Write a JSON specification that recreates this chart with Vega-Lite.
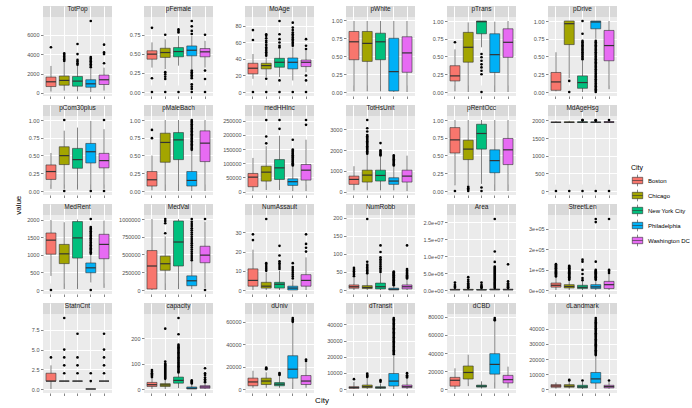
{
  "$schema": "https://vega.github.io/schema/vega-lite/v6.json",
  "padding": {"left": 14, "top": 5, "right": 0, "bottom": 2},
  "bounds": "flush",
  "title": {"text": "value", "orient": "left", "anchor": "middle", "fontSize": 8, "fontWeight": "normal", "color": "#000000", "offset": 4},
  "data": {"values": [
    {"v":"TotPop","c":"Boston","lo":150,"q1":660,"m":1150,"q3":1635,"hi":2780},
    {"v":"TotPop","c":"Chicago","lo":240,"q1":800,"m":1290,"q3":1740,"hi":3150},
    {"v":"TotPop","c":"New York City","lo":170,"q1":700,"m":1220,"q3":1700,"hi":2780},
    {"v":"TotPop","c":"Philadelphia","lo":100,"q1":590,"m":940,"q3":1360,"hi":2500},
    {"v":"TotPop","c":"Washington DC","lo":250,"q1":870,"m":1360,"q3":1840,"hi":2600},
    {"v":"pFemale","c":"Boston","lo":0.32,"q1":0.43,"m":0.496,"q3":0.54,"hi":0.65},
    {"v":"pFemale","c":"Chicago","lo":0.3,"q1":0.453,"m":0.517,"q3":0.573,"hi":0.69},
    {"v":"pFemale","c":"New York City","lo":0.345,"q1":0.461,"m":0.53,"q3":0.582,"hi":0.733},
    {"v":"pFemale","c":"Philadelphia","lo":0.3,"q1":0.474,"m":0.547,"q3":0.603,"hi":0.733},
    {"v":"pFemale","c":"Washington DC","lo":0.32,"q1":0.461,"m":0.526,"q3":0.569,"hi":0.67},
    {"v":"MoAge","c":"Boston","lo":16,"q1":22,"m":28.8,"q3":34.8,"hi":46},
    {"v":"MoAge","c":"Chicago","lo":18,"q1":28,"m":32,"q3":34.8,"hi":42},
    {"v":"MoAge","c":"New York City","lo":18,"q1":30,"m":36,"q3":40.8,"hi":52},
    {"v":"MoAge","c":"Philadelphia","lo":14,"q1":28,"m":36,"q3":41.2,"hi":54},
    {"v":"MoAge","c":"Washington DC","lo":24,"q1":30.8,"m":36,"q3":38.8,"hi":50},
    {"v":"pWhite","c":"Boston","lo":0.01,"q1":0.45,"m":0.7,"q3":0.844,"hi":0.99},
    {"v":"pWhite","c":"Chicago","lo":0.01,"q1":0.427,"m":0.678,"q3":0.844,"hi":0.99},
    {"v":"pWhite","c":"New York City","lo":0.01,"q1":0.45,"m":0.7,"q3":0.82,"hi":0.99},
    {"v":"pWhite","c":"Philadelphia","lo":0,"q1":0.014,"m":0.284,"q3":0.749,"hi":0.99},
    {"v":"pWhite","c":"Washington DC","lo":0,"q1":0.275,"m":0.545,"q3":0.77,"hi":0.99},
    {"v":"pTrans","c":"Boston","lo":0.01,"q1":0.156,"m":0.227,"q3":0.37,"hi":0.6},
    {"v":"pTrans","c":"Chicago","lo":0,"q1":0.42,"m":0.63,"q3":0.84,"hi":0.98},
    {"v":"pTrans","c":"New York City","lo":0.63,"q1":0.82,"m":0.99,"q3":1,"hi":1},
    {"v":"pTrans","c":"Philadelphia","lo":0,"q1":0.275,"m":0.526,"q3":0.82,"hi":0.99},
    {"v":"pTrans","c":"Washington DC","lo":0,"q1":0.488,"m":0.7,"q3":0.89,"hi":1},
    {"v":"pDrive","c":"Boston","lo":0.01,"q1":0.024,"m":0.142,"q3":0.275,"hi":0.56},
    {"v":"pDrive","c":"Chicago","lo":0.194,"q1":0.668,"m":0.962,"q3":1,"hi":1},
    {"v":"pDrive","c":"New York City","lo":0,"q1":0.052,"m":0.133,"q3":0.227,"hi":0.44},
    {"v":"pDrive","c":"Philadelphia","lo":0.75,"q1":0.89,"m":0.986,"q3":1,"hi":1},
    {"v":"pDrive","c":"Washington DC","lo":0.04,"q1":0.44,"m":0.654,"q3":0.867,"hi":1},
    {"v":"pCom30plus","c":"Boston","lo":0.03,"q1":0.163,"m":0.274,"q3":0.367,"hi":0.535},
    {"v":"pCom30plus","c":"Chicago","lo":0.03,"q1":0.372,"m":0.498,"q3":0.623,"hi":0.85},
    {"v":"pCom30plus","c":"New York City","lo":0.02,"q1":0.32,"m":0.442,"q3":0.6,"hi":0.893},
    {"v":"pCom30plus","c":"Philadelphia","lo":0.02,"q1":0.395,"m":0.553,"q3":0.67,"hi":0.986},
    {"v":"pCom30plus","c":"Washington DC","lo":0.03,"q1":0.326,"m":0.428,"q3":0.53,"hi":0.87},
    {"v":"pMaleBach","c":"Boston","lo":0.01,"q1":0.07,"m":0.158,"q3":0.274,"hi":0.5},
    {"v":"pMaleBach","c":"Chicago","lo":0,"q1":0.405,"m":0.684,"q3":0.814,"hi":1},
    {"v":"pMaleBach","c":"New York City","lo":0,"q1":0.442,"m":0.72,"q3":0.823,"hi":1},
    {"v":"pMaleBach","c":"Philadelphia","lo":0,"q1":0.07,"m":0.149,"q3":0.274,"hi":0.567},
    {"v":"pMaleBach","c":"Washington DC","lo":0,"q1":0.414,"m":0.674,"q3":0.847,"hi":1},
    {"v":"medHHInc","c":"Boston","lo":2300,"q1":17400,"m":51000,"q3":64000,"hi":118600},
    {"v":"medHHInc","c":"Chicago","lo":5800,"q1":37200,"m":68600,"q3":89500,"hi":160000},
    {"v":"medHHInc","c":"New York City","lo":5800,"q1":43000,"m":83700,"q3":112800,"hi":196500},
    {"v":"medHHInc","c":"Philadelphia","lo":2300,"q1":22000,"m":35000,"q3":45000,"hi":89500},
    {"v":"medHHInc","c":"Washington DC","lo":2300,"q1":40700,"m":75600,"q3":95400,"hi":182600},
    {"v":"TotHsUnit","c":"Boston","lo":63,"q1":350,"m":587,"q3":746,"hi":1222},
    {"v":"TotHsUnit","c":"Chicago","lo":63,"q1":460,"m":794,"q3":1032,"hi":1778},
    {"v":"TotHsUnit","c":"New York City","lo":63,"q1":508,"m":778,"q3":1032,"hi":1698},
    {"v":"TotHsUnit","c":"Philadelphia","lo":63,"q1":350,"m":508,"q3":667,"hi":1222},
    {"v":"TotHsUnit","c":"Washington DC","lo":30,"q1":460,"m":746,"q3":1032,"hi":1730},
    {"v":"pRentOcc","c":"Boston","lo":0.08,"q1":0.535,"m":0.72,"q3":0.893,"hi":1},
    {"v":"pRentOcc","c":"Chicago","lo":0.08,"q1":0.442,"m":0.59,"q3":0.716,"hi":1},
    {"v":"pRentOcc","c":"New York City","lo":0.1,"q1":0.59,"m":0.81,"q3":0.94,"hi":1},
    {"v":"pRentOcc","c":"Philadelphia","lo":0,"q1":0.256,"m":0.428,"q3":0.58,"hi":1},
    {"v":"pRentOcc","c":"Washington DC","lo":0,"q1":0.372,"m":0.58,"q3":0.74,"hi":1},
    {"v":"MdAgeHsg","c":"Boston","lo":1939,"q1":1939,"m":1942,"q3":1955,"hi":1978},
    {"v":"MdAgeHsg","c":"Chicago","lo":1939,"q1":1939,"m":1945,"q3":1958,"hi":1985},
    {"v":"MdAgeHsg","c":"New York City","lo":1939,"q1":1939,"m":1947,"q3":1960,"hi":1990},
    {"v":"MdAgeHsg","c":"Philadelphia","lo":1939,"q1":1939,"m":1945,"q3":1955,"hi":1980},
    {"v":"MdAgeHsg","c":"Washington DC","lo":1939,"q1":1939,"m":1950,"q3":1965,"hi":2005},
    {"v":"MedRent","c":"Boston","lo":400,"q1":1018,"m":1417,"q3":1620,"hi":1990},
    {"v":"MedRent","c":"Chicago","lo":30,"q1":750,"m":1028,"q3":1296,"hi":1926},
    {"v":"MedRent","c":"New York City","lo":30,"q1":907,"m":1481,"q3":1944,"hi":2000},
    {"v":"MedRent","c":"Philadelphia","lo":213,"q1":490,"m":630,"q3":768,"hi":1000},
    {"v":"MedRent","c":"Washington DC","lo":60,"q1":889,"m":1296,"q3":1583,"hi":1972},
    {"v":"MedVal","c":"Boston","lo":0,"q1":14000,"m":338000,"q3":555600,"hi":1000000},
    {"v":"MedVal","c":"Chicago","lo":0,"q1":278000,"m":370000,"q3":477000,"hi":755000},
    {"v":"MedVal","c":"New York City","lo":14000,"q1":338000,"m":676000,"q3":972000,"hi":1000000},
    {"v":"MedVal","c":"Philadelphia","lo":14000,"q1":60000,"m":130000,"q3":199000,"hi":407000},
    {"v":"MedVal","c":"Washington DC","lo":30000,"q1":384000,"m":491000,"q3":616000,"hi":960000},
    {"v":"NumAssault","c":"Boston","lo":0,"q1":2,"m":5,"q3":11,"hi":21},
    {"v":"NumAssault","c":"Chicago","lo":0,"q1":1,"m":2,"q3":4,"hi":9},
    {"v":"NumAssault","c":"New York City","lo":0,"q1":1,"m":3,"q3":4,"hi":10},
    {"v":"NumAssault","c":"Philadelphia","lo":0,"q1":0,"m":1,"q3":2,"hi":5},
    {"v":"NumAssault","c":"Washington DC","lo":0,"q1":2,"m":5,"q3":8,"hi":17},
    {"v":"NumRobb","c":"Boston","lo":0,"q1":5,"m":9,"q3":14,"hi":34},
    {"v":"NumRobb","c":"Chicago","lo":0,"q1":4,"m":7,"q3":12,"hi":43},
    {"v":"NumRobb","c":"New York City","lo":0,"q1":3,"m":9,"q3":19,"hi":46},
    {"v":"NumRobb","c":"Philadelphia","lo":0,"q1":0,"m":2,"q3":5,"hi":12},
    {"v":"NumRobb","c":"Washington DC","lo":0,"q1":3,"m":9,"q3":14,"hi":30},
    {"v":"Area","c":"Boston","lo":0,"q1":30000,"m":80000,"q3":200000,"hi":500000},
    {"v":"Area","c":"Chicago","lo":0,"q1":30000,"m":80000,"q3":200000,"hi":500000},
    {"v":"Area","c":"New York City","lo":0,"q1":20000,"m":50000,"q3":150000,"hi":450000},
    {"v":"Area","c":"Philadelphia","lo":0,"q1":50000,"m":120000,"q3":300000,"hi":550000},
    {"v":"Area","c":"Washington DC","lo":0,"q1":40000,"m":100000,"q3":250000,"hi":500000},
    {"v":"StreetLen","c":"Boston","lo":2000,"q1":16000,"m":25000,"q3":36000,"hi":65000},
    {"v":"StreetLen","c":"Chicago","lo":2000,"q1":12000,"m":19000,"q3":28000,"hi":50000},
    {"v":"StreetLen","c":"New York City","lo":2000,"q1":9000,"m":15000,"q3":25000,"hi":45000},
    {"v":"StreetLen","c":"Philadelphia","lo":2000,"q1":9000,"m":17000,"q3":28000,"hi":50000},
    {"v":"StreetLen","c":"Washington DC","lo":2000,"q1":9000,"m":28000,"q3":44000,"hi":80000},
    {"v":"StatnCnt","c":"Boston","lo":0,"q1":1,"m":1,"q3":2,"hi":3},
    {"v":"StatnCnt","c":"Chicago","lo":1,"q1":1,"m":1,"q3":1,"hi":1},
    {"v":"StatnCnt","c":"New York City","lo":1,"q1":1,"m":1,"q3":1,"hi":1},
    {"v":"StatnCnt","c":"Philadelphia","lo":0,"q1":0,"m":0,"q3":0,"hi":0},
    {"v":"StatnCnt","c":"Washington DC","lo":1,"q1":1,"m":1,"q3":1,"hi":1},
    {"v":"capacity","c":"Boston","lo":0,"q1":10,"m":17,"q3":26,"hi":43},
    {"v":"capacity","c":"Chicago","lo":0,"q1":10,"m":16,"q3":21,"hi":37},
    {"v":"capacity","c":"New York City","lo":4,"q1":23,"m":34,"q3":47,"hi":62},
    {"v":"capacity","c":"Philadelphia","lo":0,"q1":0,"m":3,"q3":8,"hi":19},
    {"v":"capacity","c":"Washington DC","lo":0,"q1":3,"m":8,"q3":13,"hi":23},
    {"v":"dUniv","c":"Boston","lo":1100,"q1":2900,"m":6300,"q3":9700,"hi":16300},
    {"v":"dUniv","c":"Chicago","lo":1100,"q1":4000,"m":7100,"q3":9700,"hi":14900},
    {"v":"dUniv","c":"New York City","lo":1100,"q1":2900,"m":4300,"q3":5700,"hi":11400},
    {"v":"dUniv","c":"Philadelphia","lo":0,"q1":9700,"m":17700,"q3":29700,"hi":59100},
    {"v":"dUniv","c":"Washington DC","lo":1100,"q1":4000,"m":7100,"q3":12000,"hi":23400},
    {"v":"dTransit","c":"Boston","lo":0,"q1":400,"m":900,"q3":1430,"hi":4490},
    {"v":"dTransit","c":"Chicago","lo":0,"q1":800,"m":1430,"q3":2450,"hi":6940},
    {"v":"dTransit","c":"New York City","lo":0,"q1":400,"m":900,"q3":1430,"hi":3470},
    {"v":"dTransit","c":"Philadelphia","lo":0,"q1":1840,"m":4900,"q3":9600,"hi":20800},
    {"v":"dTransit","c":"Washington DC","lo":0,"q1":820,"m":1430,"q3":2450,"hi":6500},
    {"v":"dCBD","c":"Boston","lo":400,"q1":3570,"m":10000,"q3":13200,"hi":23200},
    {"v":"dCBD","c":"Chicago","lo":3570,"q1":11400,"m":18600,"q3":25700,"hi":38200},
    {"v":"dCBD","c":"New York City","lo":1000,"q1":2500,"m":3570,"q3":4640,"hi":8900},
    {"v":"dCBD","c":"Philadelphia","lo":1000,"q1":16800,"m":27500,"q3":39300,"hi":75000},
    {"v":"dCBD","c":"Washington DC","lo":1700,"q1":7100,"m":10700,"q3":15400,"hi":25000},
    {"v":"dLandmark","c":"Boston","lo":600,"q1":1470,"m":2300,"q3":3160,"hi":4630},
    {"v":"dLandmark","c":"Chicago","lo":600,"q1":1470,"m":2100,"q3":3160,"hi":5260},
    {"v":"dLandmark","c":"New York City","lo":300,"q1":1050,"m":1680,"q3":2740,"hi":5000},
    {"v":"dLandmark","c":"Philadelphia","lo":300,"q1":4210,"m":6950,"q3":11160,"hi":22100},
    {"v":"dLandmark","c":"Washington DC","lo":400,"q1":1050,"m":1890,"q3":2740,"hi":5050},

    {"v":"TotPop","c":"Boston","o":4700},
    {"v":"TotPop","c":"Chicago","o":3300},{"v":"TotPop","c":"Chicago","o":3450},{"v":"TotPop","c":"Chicago","o":3600},{"v":"TotPop","c":"Chicago","o":3750},{"v":"TotPop","c":"Chicago","o":3900},{"v":"TotPop","c":"Chicago","o":4070},
    {"v":"TotPop","c":"New York City","o":2900},{"v":"TotPop","c":"New York City","o":3050},{"v":"TotPop","c":"New York City","o":3230},{"v":"TotPop","c":"New York City","o":3400},{"v":"TotPop","c":"New York City","o":4000},{"v":"TotPop","c":"New York City","o":5040},
    {"v":"TotPop","c":"Philadelphia","o":2650},{"v":"TotPop","c":"Philadelphia","o":2800},{"v":"TotPop","c":"Philadelphia","o":2950},{"v":"TotPop","c":"Philadelphia","o":3100},{"v":"TotPop","c":"Philadelphia","o":3250},{"v":"TotPop","c":"Philadelphia","o":3400},{"v":"TotPop","c":"Philadelphia","o":3550},{"v":"TotPop","c":"Philadelphia","o":3700},{"v":"TotPop","c":"Philadelphia","o":7400},
    {"v":"TotPop","c":"Washington DC","o":3060},{"v":"TotPop","c":"Washington DC","o":4000},{"v":"TotPop","c":"Washington DC","o":4170},{"v":"TotPop","c":"Washington DC","o":4970},

    {"v":"pFemale","c":"Boston","o":0.84},{"v":"pFemale","c":"Boston","o":0.18},{"v":"pFemale","c":"Boston","o":0},
    {"v":"pFemale","c":"Chicago","o":0.75},{"v":"pFemale","c":"Chicago","o":0.26},{"v":"pFemale","c":"Chicago","o":0.23},{"v":"pFemale","c":"Chicago","o":0.2},{"v":"pFemale","c":"Chicago","o":0.17},{"v":"pFemale","c":"Chicago","o":0},
    {"v":"pFemale","c":"New York City","o":0.78},{"v":"pFemale","c":"New York City","o":0.8},{"v":"pFemale","c":"New York City","o":0.82},{"v":"pFemale","c":"New York City","o":0},
    {"v":"pFemale","c":"Philadelphia","o":0.93},{"v":"pFemale","c":"Philadelphia","o":0.86},{"v":"pFemale","c":"Philadelphia","o":0.8},{"v":"pFemale","c":"Philadelphia","o":0.76},{"v":"pFemale","c":"Philadelphia","o":0.28},{"v":"pFemale","c":"Philadelphia","o":0.26},{"v":"pFemale","c":"Philadelphia","o":0.24},{"v":"pFemale","c":"Philadelphia","o":0.22},{"v":"pFemale","c":"Philadelphia","o":0.2},{"v":"pFemale","c":"Philadelphia","o":0.18},{"v":"pFemale","c":"Philadelphia","o":0.1},{"v":"pFemale","c":"Philadelphia","o":0.07},{"v":"pFemale","c":"Philadelphia","o":0.04},{"v":"pFemale","c":"Philadelphia","o":0},
    {"v":"pFemale","c":"Washington DC","o":0.75},{"v":"pFemale","c":"Washington DC","o":0.28},{"v":"pFemale","c":"Washington DC","o":0.17},{"v":"pFemale","c":"Washington DC","o":0},

    {"v":"MoAge","c":"Boston","o":75},{"v":"MoAge","c":"Boston","o":63},{"v":"MoAge","c":"Boston","o":0},
    {"v":"MoAge","c":"Chicago","o":44},{"v":"MoAge","c":"Chicago","o":46},{"v":"MoAge","c":"Chicago","o":48},{"v":"MoAge","c":"Chicago","o":50},{"v":"MoAge","c":"Chicago","o":52},{"v":"MoAge","c":"Chicago","o":54},{"v":"MoAge","c":"Chicago","o":57},{"v":"MoAge","c":"Chicago","o":60},{"v":"MoAge","c":"Chicago","o":62},{"v":"MoAge","c":"Chicago","o":65},{"v":"MoAge","c":"Chicago","o":68},{"v":"MoAge","c":"Chicago","o":70},{"v":"MoAge","c":"Chicago","o":16},{"v":"MoAge","c":"Chicago","o":0},
    {"v":"MoAge","c":"New York City","o":54},{"v":"MoAge","c":"New York City","o":56},{"v":"MoAge","c":"New York City","o":60},{"v":"MoAge","c":"New York City","o":64},{"v":"MoAge","c":"New York City","o":70},{"v":"MoAge","c":"New York City","o":86},{"v":"MoAge","c":"New York City","o":14},{"v":"MoAge","c":"New York City","o":0},
    {"v":"MoAge","c":"Philadelphia","o":56},{"v":"MoAge","c":"Philadelphia","o":58},{"v":"MoAge","c":"Philadelphia","o":60},{"v":"MoAge","c":"Philadelphia","o":62},{"v":"MoAge","c":"Philadelphia","o":64},{"v":"MoAge","c":"Philadelphia","o":66},{"v":"MoAge","c":"Philadelphia","o":68},{"v":"MoAge","c":"Philadelphia","o":70},{"v":"MoAge","c":"Philadelphia","o":72},{"v":"MoAge","c":"Philadelphia","o":75},{"v":"MoAge","c":"Philadelphia","o":78},{"v":"MoAge","c":"Philadelphia","o":84},{"v":"MoAge","c":"Philadelphia","o":0},
    {"v":"MoAge","c":"Washington DC","o":52},{"v":"MoAge","c":"Washington DC","o":56},{"v":"MoAge","c":"Washington DC","o":64},{"v":"MoAge","c":"Washington DC","o":20},{"v":"MoAge","c":"Washington DC","o":14},{"v":"MoAge","c":"Washington DC","o":0},

    {"v":"pTrans","c":"Boston","o":0.7},
    {"v":"pTrans","c":"New York City","o":0.535},{"v":"pTrans","c":"New York City","o":0.49},{"v":"pTrans","c":"New York City","o":0.44},{"v":"pTrans","c":"New York City","o":0.39},{"v":"pTrans","c":"New York City","o":0.346},{"v":"pTrans","c":"New York City","o":0.3},{"v":"pTrans","c":"New York City","o":0.25},{"v":"pTrans","c":"New York City","o":0},

    {"v":"pDrive","c":"Chicago","o":0.156},{"v":"pDrive","c":"Chicago","o":0},
    {"v":"pDrive","c":"New York City","o":0.46},{"v":"pDrive","c":"New York City","o":0.48},{"v":"pDrive","c":"New York City","o":0.5},{"v":"pDrive","c":"New York City","o":0.52},{"v":"pDrive","c":"New York City","o":0.54},{"v":"pDrive","c":"New York City","o":0.56},{"v":"pDrive","c":"New York City","o":0.58},{"v":"pDrive","c":"New York City","o":0.6},{"v":"pDrive","c":"New York City","o":0.62},{"v":"pDrive","c":"New York City","o":0.64},{"v":"pDrive","c":"New York City","o":0.66},{"v":"pDrive","c":"New York City","o":0.68},{"v":"pDrive","c":"New York City","o":0.7},{"v":"pDrive","c":"New York City","o":0.72},{"v":"pDrive","c":"New York City","o":0.82},{"v":"pDrive","c":"New York City","o":1},
    {"v":"pDrive","c":"Philadelphia","o":0},{"v":"pDrive","c":"Philadelphia","o":0.02},{"v":"pDrive","c":"Philadelphia","o":0.04},{"v":"pDrive","c":"Philadelphia","o":0.06},{"v":"pDrive","c":"Philadelphia","o":0.08},{"v":"pDrive","c":"Philadelphia","o":0.1},{"v":"pDrive","c":"Philadelphia","o":0.12},{"v":"pDrive","c":"Philadelphia","o":0.14},{"v":"pDrive","c":"Philadelphia","o":0.16},{"v":"pDrive","c":"Philadelphia","o":0.18},{"v":"pDrive","c":"Philadelphia","o":0.2},{"v":"pDrive","c":"Philadelphia","o":0.22},{"v":"pDrive","c":"Philadelphia","o":0.24},{"v":"pDrive","c":"Philadelphia","o":0.26},{"v":"pDrive","c":"Philadelphia","o":0.28},{"v":"pDrive","c":"Philadelphia","o":0.3},{"v":"pDrive","c":"Philadelphia","o":0.32},{"v":"pDrive","c":"Philadelphia","o":0.34},{"v":"pDrive","c":"Philadelphia","o":0.36},{"v":"pDrive","c":"Philadelphia","o":0.38},{"v":"pDrive","c":"Philadelphia","o":0.4},{"v":"pDrive","c":"Philadelphia","o":0.42},{"v":"pDrive","c":"Philadelphia","o":0.44},{"v":"pDrive","c":"Philadelphia","o":0.46},{"v":"pDrive","c":"Philadelphia","o":0.48},{"v":"pDrive","c":"Philadelphia","o":0.5},{"v":"pDrive","c":"Philadelphia","o":0.52},{"v":"pDrive","c":"Philadelphia","o":0.54},{"v":"pDrive","c":"Philadelphia","o":0.56},{"v":"pDrive","c":"Philadelphia","o":0.58},{"v":"pDrive","c":"Philadelphia","o":0.6},{"v":"pDrive","c":"Philadelphia","o":0.62},{"v":"pDrive","c":"Philadelphia","o":0.64},{"v":"pDrive","c":"Philadelphia","o":0.66},{"v":"pDrive","c":"Philadelphia","o":0.68},{"v":"pDrive","c":"Philadelphia","o":0.7},{"v":"pDrive","c":"Philadelphia","o":0.72},

    {"v":"pCom30plus","c":"Chicago","o":1},{"v":"pCom30plus","c":"Chicago","o":0},
    {"v":"pCom30plus","c":"Philadelphia","o":0},
    {"v":"pCom30plus","c":"Washington DC","o":1},{"v":"pCom30plus","c":"Washington DC","o":0},

    {"v":"pMaleBach","c":"Boston","o":0.744},{"v":"pMaleBach","c":"Boston","o":0.86},
    {"v":"pMaleBach","c":"Philadelphia","o":0.58},{"v":"pMaleBach","c":"Philadelphia","o":0.6},{"v":"pMaleBach","c":"Philadelphia","o":0.62},{"v":"pMaleBach","c":"Philadelphia","o":0.64},{"v":"pMaleBach","c":"Philadelphia","o":0.66},{"v":"pMaleBach","c":"Philadelphia","o":0.68},{"v":"pMaleBach","c":"Philadelphia","o":0.7},{"v":"pMaleBach","c":"Philadelphia","o":0.72},{"v":"pMaleBach","c":"Philadelphia","o":0.74},{"v":"pMaleBach","c":"Philadelphia","o":0.76},{"v":"pMaleBach","c":"Philadelphia","o":0.78},{"v":"pMaleBach","c":"Philadelphia","o":0.8},{"v":"pMaleBach","c":"Philadelphia","o":0.82},{"v":"pMaleBach","c":"Philadelphia","o":0.84},{"v":"pMaleBach","c":"Philadelphia","o":0.86},{"v":"pMaleBach","c":"Philadelphia","o":0.88},{"v":"pMaleBach","c":"Philadelphia","o":0.9},{"v":"pMaleBach","c":"Philadelphia","o":0.92},{"v":"pMaleBach","c":"Philadelphia","o":0.94},{"v":"pMaleBach","c":"Philadelphia","o":0.96},{"v":"pMaleBach","c":"Philadelphia","o":0.98},{"v":"pMaleBach","c":"Philadelphia","o":1},

    {"v":"medHHInc","c":"Chicago","o":170000},{"v":"medHHInc","c":"Chicago","o":194000},{"v":"medHHInc","c":"Chicago","o":252000},
    {"v":"medHHInc","c":"New York City","o":221000},{"v":"medHHInc","c":"New York City","o":252000},
    {"v":"medHHInc","c":"Philadelphia","o":92000},{"v":"medHHInc","c":"Philadelphia","o":96000},{"v":"medHHInc","c":"Philadelphia","o":100000},{"v":"medHHInc","c":"Philadelphia","o":104000},{"v":"medHHInc","c":"Philadelphia","o":108000},{"v":"medHHInc","c":"Philadelphia","o":112000},{"v":"medHHInc","c":"Philadelphia","o":116000},{"v":"medHHInc","c":"Philadelphia","o":120000},{"v":"medHHInc","c":"Philadelphia","o":124000},{"v":"medHHInc","c":"Philadelphia","o":128000},{"v":"medHHInc","c":"Philadelphia","o":132000},{"v":"medHHInc","c":"Philadelphia","o":136000},{"v":"medHHInc","c":"Philadelphia","o":140000},{"v":"medHHInc","c":"Philadelphia","o":144000},{"v":"medHHInc","c":"Philadelphia","o":148000},{"v":"medHHInc","c":"Philadelphia","o":182600},
    {"v":"medHHInc","c":"Washington DC","o":235000},{"v":"medHHInc","c":"Washington DC","o":252000},

    {"v":"TotHsUnit","c":"Chicago","o":1820},{"v":"TotHsUnit","c":"Chicago","o":1880},{"v":"TotHsUnit","c":"Chicago","o":1940},{"v":"TotHsUnit","c":"Chicago","o":2000},{"v":"TotHsUnit","c":"Chicago","o":2060},{"v":"TotHsUnit","c":"Chicago","o":2120},{"v":"TotHsUnit","c":"Chicago","o":2180},{"v":"TotHsUnit","c":"Chicago","o":2240},{"v":"TotHsUnit","c":"Chicago","o":2300},{"v":"TotHsUnit","c":"Chicago","o":2360},{"v":"TotHsUnit","c":"Chicago","o":2420},{"v":"TotHsUnit","c":"Chicago","o":2480},{"v":"TotHsUnit","c":"Chicago","o":2540},{"v":"TotHsUnit","c":"Chicago","o":2600},{"v":"TotHsUnit","c":"Chicago","o":2660},{"v":"TotHsUnit","c":"Chicago","o":2720},{"v":"TotHsUnit","c":"Chicago","o":2889},{"v":"TotHsUnit","c":"Chicago","o":3048},{"v":"TotHsUnit","c":"Chicago","o":3444},
    {"v":"TotHsUnit","c":"New York City","o":1740},{"v":"TotHsUnit","c":"New York City","o":1800},{"v":"TotHsUnit","c":"New York City","o":1860},{"v":"TotHsUnit","c":"New York City","o":1920},{"v":"TotHsUnit","c":"New York City","o":1980},{"v":"TotHsUnit","c":"New York City","o":2333},
    {"v":"TotHsUnit","c":"Philadelphia","o":1260},{"v":"TotHsUnit","c":"Philadelphia","o":1320},{"v":"TotHsUnit","c":"Philadelphia","o":1380},{"v":"TotHsUnit","c":"Philadelphia","o":1440},{"v":"TotHsUnit","c":"Philadelphia","o":1500},{"v":"TotHsUnit","c":"Philadelphia","o":1560},{"v":"TotHsUnit","c":"Philadelphia","o":1620},{"v":"TotHsUnit","c":"Philadelphia","o":1680},{"v":"TotHsUnit","c":"Philadelphia","o":1740},

    {"v":"pRentOcc","c":"Boston","o":0},
    {"v":"pRentOcc","c":"Chicago","o":0.06},{"v":"pRentOcc","c":"Chicago","o":0.04},{"v":"pRentOcc","c":"Chicago","o":0.02},{"v":"pRentOcc","c":"Chicago","o":0},
    {"v":"pRentOcc","c":"New York City","o":0.05},{"v":"pRentOcc","c":"New York City","o":0},

    {"v":"MdAgeHsg","c":"Boston","o":0},
    {"v":"MdAgeHsg","c":"Chicago","o":0},
    {"v":"MdAgeHsg","c":"New York City","o":2005},{"v":"MdAgeHsg","c":"New York City","o":2010},{"v":"MdAgeHsg","c":"New York City","o":0},
    {"v":"MdAgeHsg","c":"Philadelphia","o":1990},{"v":"MdAgeHsg","c":"Philadelphia","o":2000},{"v":"MdAgeHsg","c":"Philadelphia","o":2010},{"v":"MdAgeHsg","c":"Philadelphia","o":0},
    {"v":"MdAgeHsg","c":"Washington DC","o":2010},{"v":"MdAgeHsg","c":"Washington DC","o":0},

    {"v":"MedRent","c":"Boston","o":0},
    {"v":"MedRent","c":"Philadelphia","o":1030},{"v":"MedRent","c":"Philadelphia","o":1070},{"v":"MedRent","c":"Philadelphia","o":1110},{"v":"MedRent","c":"Philadelphia","o":1150},{"v":"MedRent","c":"Philadelphia","o":1190},{"v":"MedRent","c":"Philadelphia","o":1230},{"v":"MedRent","c":"Philadelphia","o":1270},{"v":"MedRent","c":"Philadelphia","o":1310},{"v":"MedRent","c":"Philadelphia","o":1350},{"v":"MedRent","c":"Philadelphia","o":1390},{"v":"MedRent","c":"Philadelphia","o":1430},{"v":"MedRent","c":"Philadelphia","o":1470},{"v":"MedRent","c":"Philadelphia","o":1510},{"v":"MedRent","c":"Philadelphia","o":1550},{"v":"MedRent","c":"Philadelphia","o":1590},{"v":"MedRent","c":"Philadelphia","o":1630},{"v":"MedRent","c":"Philadelphia","o":1670},{"v":"MedRent","c":"Philadelphia","o":1710},{"v":"MedRent","c":"Philadelphia","o":1750},{"v":"MedRent","c":"Philadelphia","o":1790},{"v":"MedRent","c":"Philadelphia","o":2018},{"v":"MedRent","c":"Philadelphia","o":0},

    {"v":"MedVal","c":"Chicago","o":800000},{"v":"MedVal","c":"Chicago","o":940000},{"v":"MedVal","c":"Chicago","o":972000},{"v":"MedVal","c":"Chicago","o":1000000},
    {"v":"MedVal","c":"Philadelphia","o":420000},{"v":"MedVal","c":"Philadelphia","o":450000},{"v":"MedVal","c":"Philadelphia","o":480000},{"v":"MedVal","c":"Philadelphia","o":510000},{"v":"MedVal","c":"Philadelphia","o":540000},{"v":"MedVal","c":"Philadelphia","o":570000},{"v":"MedVal","c":"Philadelphia","o":600000},{"v":"MedVal","c":"Philadelphia","o":630000},{"v":"MedVal","c":"Philadelphia","o":660000},{"v":"MedVal","c":"Philadelphia","o":690000},{"v":"MedVal","c":"Philadelphia","o":720000},{"v":"MedVal","c":"Philadelphia","o":750000},{"v":"MedVal","c":"Philadelphia","o":780000},{"v":"MedVal","c":"Philadelphia","o":810000},{"v":"MedVal","c":"Philadelphia","o":840000},{"v":"MedVal","c":"Philadelphia","o":870000},{"v":"MedVal","c":"Philadelphia","o":900000},{"v":"MedVal","c":"Philadelphia","o":930000},{"v":"MedVal","c":"Philadelphia","o":960000},{"v":"MedVal","c":"Philadelphia","o":1000000},
    {"v":"MedVal","c":"Washington DC","o":1000000},{"v":"MedVal","c":"Washington DC","o":0},

    {"v":"NumAssault","c":"Boston","o":26},{"v":"NumAssault","c":"Boston","o":29},
    {"v":"NumAssault","c":"Chicago","o":10},{"v":"NumAssault","c":"Chicago","o":11},{"v":"NumAssault","c":"Chicago","o":12},{"v":"NumAssault","c":"Chicago","o":13},{"v":"NumAssault","c":"Chicago","o":14},{"v":"NumAssault","c":"Chicago","o":37},
    {"v":"NumAssault","c":"New York City","o":11},{"v":"NumAssault","c":"New York City","o":12},{"v":"NumAssault","c":"New York City","o":13},{"v":"NumAssault","c":"New York City","o":14},{"v":"NumAssault","c":"New York City","o":15},{"v":"NumAssault","c":"New York City","o":18},{"v":"NumAssault","c":"New York City","o":23},
    {"v":"NumAssault","c":"Philadelphia","o":6},{"v":"NumAssault","c":"Philadelphia","o":7},{"v":"NumAssault","c":"Philadelphia","o":8},{"v":"NumAssault","c":"Philadelphia","o":9},{"v":"NumAssault","c":"Philadelphia","o":10},{"v":"NumAssault","c":"Philadelphia","o":11},{"v":"NumAssault","c":"Philadelphia","o":12},{"v":"NumAssault","c":"Philadelphia","o":14},
    {"v":"NumAssault","c":"Washington DC","o":20},{"v":"NumAssault","c":"Washington DC","o":22},{"v":"NumAssault","c":"Washington DC","o":24},{"v":"NumAssault","c":"Washington DC","o":29},

    {"v":"NumRobb","c":"Boston","o":38},{"v":"NumRobb","c":"Boston","o":42},{"v":"NumRobb","c":"Boston","o":47},{"v":"NumRobb","c":"Boston","o":52},{"v":"NumRobb","c":"Boston","o":56},{"v":"NumRobb","c":"Boston","o":61},
    {"v":"NumRobb","c":"Chicago","o":46},{"v":"NumRobb","c":"Chicago","o":50},{"v":"NumRobb","c":"Chicago","o":54},{"v":"NumRobb","c":"Chicago","o":58},{"v":"NumRobb","c":"Chicago","o":62},{"v":"NumRobb","c":"Chicago","o":66},{"v":"NumRobb","c":"Chicago","o":70},{"v":"NumRobb","c":"Chicago","o":78},{"v":"NumRobb","c":"Chicago","o":196},
    {"v":"NumRobb","c":"New York City","o":50},{"v":"NumRobb","c":"New York City","o":55},{"v":"NumRobb","c":"New York City","o":60},{"v":"NumRobb","c":"New York City","o":65},{"v":"NumRobb","c":"New York City","o":70},{"v":"NumRobb","c":"New York City","o":75},{"v":"NumRobb","c":"New York City","o":80},{"v":"NumRobb","c":"New York City","o":85},{"v":"NumRobb","c":"New York City","o":90},{"v":"NumRobb","c":"New York City","o":105},{"v":"NumRobb","c":"New York City","o":123},
    {"v":"NumRobb","c":"Philadelphia","o":13},{"v":"NumRobb","c":"Philadelphia","o":15},{"v":"NumRobb","c":"Philadelphia","o":17},{"v":"NumRobb","c":"Philadelphia","o":19},{"v":"NumRobb","c":"Philadelphia","o":21},{"v":"NumRobb","c":"Philadelphia","o":23},{"v":"NumRobb","c":"Philadelphia","o":25},{"v":"NumRobb","c":"Philadelphia","o":27},{"v":"NumRobb","c":"Philadelphia","o":29},{"v":"NumRobb","c":"Philadelphia","o":31},{"v":"NumRobb","c":"Philadelphia","o":33},{"v":"NumRobb","c":"Philadelphia","o":35},{"v":"NumRobb","c":"Philadelphia","o":37},{"v":"NumRobb","c":"Philadelphia","o":39},{"v":"NumRobb","c":"Philadelphia","o":41},{"v":"NumRobb","c":"Philadelphia","o":43},{"v":"NumRobb","c":"Philadelphia","o":45},{"v":"NumRobb","c":"Philadelphia","o":47},{"v":"NumRobb","c":"Philadelphia","o":49},{"v":"NumRobb","c":"Philadelphia","o":51},
    {"v":"NumRobb","c":"Washington DC","o":32},{"v":"NumRobb","c":"Washington DC","o":35},{"v":"NumRobb","c":"Washington DC","o":38},{"v":"NumRobb","c":"Washington DC","o":41},{"v":"NumRobb","c":"Washington DC","o":44},{"v":"NumRobb","c":"Washington DC","o":47},{"v":"NumRobb","c":"Washington DC","o":50},{"v":"NumRobb","c":"Washington DC","o":54},{"v":"NumRobb","c":"Washington DC","o":58},{"v":"NumRobb","c":"Washington DC","o":123},

    {"v":"Area","c":"Boston","o":700000},{"v":"Area","c":"Boston","o":1000000},{"v":"Area","c":"Boston","o":1500000},{"v":"Area","c":"Boston","o":2200000},
    {"v":"Area","c":"Chicago","o":600000},{"v":"Area","c":"Chicago","o":800000},{"v":"Area","c":"Chicago","o":1000000},{"v":"Area","c":"Chicago","o":1300000},{"v":"Area","c":"Chicago","o":1600000},{"v":"Area","c":"Chicago","o":2000000},{"v":"Area","c":"Chicago","o":2500000},{"v":"Area","c":"Chicago","o":3000000},{"v":"Area","c":"Chicago","o":3800000},
    {"v":"Area","c":"New York City","o":600000},{"v":"Area","c":"New York City","o":800000},{"v":"Area","c":"New York City","o":1100000},{"v":"Area","c":"New York City","o":1500000},{"v":"Area","c":"New York City","o":2200000},
    {"v":"Area","c":"Philadelphia","o":600000},{"v":"Area","c":"Philadelphia","o":900000},{"v":"Area","c":"Philadelphia","o":1200000},{"v":"Area","c":"Philadelphia","o":1500000},{"v":"Area","c":"Philadelphia","o":1800000},{"v":"Area","c":"Philadelphia","o":2100000},{"v":"Area","c":"Philadelphia","o":2400000},{"v":"Area","c":"Philadelphia","o":2700000},{"v":"Area","c":"Philadelphia","o":3000000},{"v":"Area","c":"Philadelphia","o":3300000},{"v":"Area","c":"Philadelphia","o":3600000},{"v":"Area","c":"Philadelphia","o":3900000},{"v":"Area","c":"Philadelphia","o":4200000},{"v":"Area","c":"Philadelphia","o":4500000},{"v":"Area","c":"Philadelphia","o":4800000},{"v":"Area","c":"Philadelphia","o":5100000},{"v":"Area","c":"Philadelphia","o":5400000},{"v":"Area","c":"Philadelphia","o":5700000},{"v":"Area","c":"Philadelphia","o":6000000},{"v":"Area","c":"Philadelphia","o":6300000},{"v":"Area","c":"Philadelphia","o":6600000},{"v":"Area","c":"Philadelphia","o":6900000},{"v":"Area","c":"Philadelphia","o":8300000},{"v":"Area","c":"Philadelphia","o":11400000},{"v":"Area","c":"Philadelphia","o":21000000},
    {"v":"Area","c":"Washington DC","o":600000},{"v":"Area","c":"Washington DC","o":800000},{"v":"Area","c":"Washington DC","o":1000000},{"v":"Area","c":"Washington DC","o":1300000},{"v":"Area","c":"Washington DC","o":1600000},{"v":"Area","c":"Washington DC","o":2000000},{"v":"Area","c":"Washington DC","o":2600000},{"v":"Area","c":"Washington DC","o":7600000},

    {"v":"StreetLen","c":"Boston","o":68000},{"v":"StreetLen","c":"Boston","o":72000},{"v":"StreetLen","c":"Boston","o":76000},{"v":"StreetLen","c":"Boston","o":80000},{"v":"StreetLen","c":"Boston","o":84000},{"v":"StreetLen","c":"Boston","o":88000},{"v":"StreetLen","c":"Boston","o":92000},{"v":"StreetLen","c":"Boston","o":96000},{"v":"StreetLen","c":"Boston","o":100000},{"v":"StreetLen","c":"Boston","o":104000},{"v":"StreetLen","c":"Boston","o":108000},{"v":"StreetLen","c":"Boston","o":112000},{"v":"StreetLen","c":"Boston","o":116000},{"v":"StreetLen","c":"Boston","o":120000},{"v":"StreetLen","c":"Boston","o":124000},{"v":"StreetLen","c":"Boston","o":128000},
    {"v":"StreetLen","c":"Chicago","o":52000},{"v":"StreetLen","c":"Chicago","o":56000},{"v":"StreetLen","c":"Chicago","o":60000},{"v":"StreetLen","c":"Chicago","o":64000},{"v":"StreetLen","c":"Chicago","o":68000},{"v":"StreetLen","c":"Chicago","o":72000},{"v":"StreetLen","c":"Chicago","o":76000},{"v":"StreetLen","c":"Chicago","o":80000},{"v":"StreetLen","c":"Chicago","o":84000},{"v":"StreetLen","c":"Chicago","o":88000},{"v":"StreetLen","c":"Chicago","o":92000},{"v":"StreetLen","c":"Chicago","o":96000},{"v":"StreetLen","c":"Chicago","o":100000},{"v":"StreetLen","c":"Chicago","o":104000},{"v":"StreetLen","c":"Chicago","o":108000},{"v":"StreetLen","c":"Chicago","o":112000},{"v":"StreetLen","c":"Chicago","o":116000},{"v":"StreetLen","c":"Chicago","o":120000},
    {"v":"StreetLen","c":"New York City","o":50000},{"v":"StreetLen","c":"New York City","o":60000},{"v":"StreetLen","c":"New York City","o":80000},{"v":"StreetLen","c":"New York City","o":100000},{"v":"StreetLen","c":"New York City","o":140000},{"v":"StreetLen","c":"New York City","o":150000},
    {"v":"StreetLen","c":"Philadelphia","o":52000},{"v":"StreetLen","c":"Philadelphia","o":56000},{"v":"StreetLen","c":"Philadelphia","o":60000},{"v":"StreetLen","c":"Philadelphia","o":64000},{"v":"StreetLen","c":"Philadelphia","o":68000},{"v":"StreetLen","c":"Philadelphia","o":72000},{"v":"StreetLen","c":"Philadelphia","o":76000},{"v":"StreetLen","c":"Philadelphia","o":80000},{"v":"StreetLen","c":"Philadelphia","o":84000},{"v":"StreetLen","c":"Philadelphia","o":88000},{"v":"StreetLen","c":"Philadelphia","o":92000},{"v":"StreetLen","c":"Philadelphia","o":96000},{"v":"StreetLen","c":"Philadelphia","o":100000},{"v":"StreetLen","c":"Philadelphia","o":140000},{"v":"StreetLen","c":"Philadelphia","o":333000},{"v":"StreetLen","c":"Philadelphia","o":348000},
    {"v":"StreetLen","c":"Washington DC","o":85000},{"v":"StreetLen","c":"Washington DC","o":95000},{"v":"StreetLen","c":"Washington DC","o":100000},{"v":"StreetLen","c":"Washington DC","o":348000},

    {"v":"StatnCnt","c":"Boston","o":4},
    {"v":"StatnCnt","c":"Chicago","o":2},{"v":"StatnCnt","c":"Chicago","o":3},{"v":"StatnCnt","c":"Chicago","o":4},{"v":"StatnCnt","c":"Chicago","o":5},{"v":"StatnCnt","c":"Chicago","o":9},
    {"v":"StatnCnt","c":"New York City","o":2},{"v":"StatnCnt","c":"New York City","o":3},{"v":"StatnCnt","c":"New York City","o":4},{"v":"StatnCnt","c":"New York City","o":7},
    {"v":"StatnCnt","c":"Philadelphia","o":1},{"v":"StatnCnt","c":"Philadelphia","o":2},
    {"v":"StatnCnt","c":"Washington DC","o":2},{"v":"StatnCnt","c":"Washington DC","o":3},{"v":"StatnCnt","c":"Washington DC","o":4},{"v":"StatnCnt","c":"Washington DC","o":5},{"v":"StatnCnt","c":"Washington DC","o":7},

    {"v":"capacity","c":"Boston","o":47},{"v":"capacity","c":"Boston","o":52},{"v":"capacity","c":"Boston","o":57},{"v":"capacity","c":"Boston","o":62},{"v":"capacity","c":"Boston","o":68},{"v":"capacity","c":"Boston","o":75},
    {"v":"capacity","c":"Chicago","o":40},{"v":"capacity","c":"Chicago","o":44},{"v":"capacity","c":"Chicago","o":48},{"v":"capacity","c":"Chicago","o":52},{"v":"capacity","c":"Chicago","o":56},{"v":"capacity","c":"Chicago","o":60},{"v":"capacity","c":"Chicago","o":64},{"v":"capacity","c":"Chicago","o":68},{"v":"capacity","c":"Chicago","o":72},{"v":"capacity","c":"Chicago","o":76},{"v":"capacity","c":"Chicago","o":80},{"v":"capacity","c":"Chicago","o":84},{"v":"capacity","c":"Chicago","o":88},{"v":"capacity","c":"Chicago","o":92},{"v":"capacity","c":"Chicago","o":96},{"v":"capacity","c":"Chicago","o":100},{"v":"capacity","c":"Chicago","o":108},{"v":"capacity","c":"Chicago","o":238},
    {"v":"capacity","c":"New York City","o":65},{"v":"capacity","c":"New York City","o":70},{"v":"capacity","c":"New York City","o":75},{"v":"capacity","c":"New York City","o":80},{"v":"capacity","c":"New York City","o":85},{"v":"capacity","c":"New York City","o":90},{"v":"capacity","c":"New York City","o":95},{"v":"capacity","c":"New York City","o":100},{"v":"capacity","c":"New York City","o":105},{"v":"capacity","c":"New York City","o":110},{"v":"capacity","c":"New York City","o":115},{"v":"capacity","c":"New York City","o":120},{"v":"capacity","c":"New York City","o":125},{"v":"capacity","c":"New York City","o":130},{"v":"capacity","c":"New York City","o":135},{"v":"capacity","c":"New York City","o":140},{"v":"capacity","c":"New York City","o":145},{"v":"capacity","c":"New York City","o":150},{"v":"capacity","c":"New York City","o":155},{"v":"capacity","c":"New York City","o":160},{"v":"capacity","c":"New York City","o":165},{"v":"capacity","c":"New York City","o":170},{"v":"capacity","c":"New York City","o":175},{"v":"capacity","c":"New York City","o":216},{"v":"capacity","c":"New York City","o":280},
    {"v":"capacity","c":"Philadelphia","o":22},{"v":"capacity","c":"Philadelphia","o":26},{"v":"capacity","c":"Philadelphia","o":30},{"v":"capacity","c":"Philadelphia","o":34},
    {"v":"capacity","c":"Washington DC","o":27},{"v":"capacity","c":"Washington DC","o":32},{"v":"capacity","c":"Washington DC","o":38},{"v":"capacity","c":"Washington DC","o":45},{"v":"capacity","c":"Washington DC","o":55},{"v":"capacity","c":"Washington DC","o":62},{"v":"capacity","c":"Washington DC","o":82},

    {"v":"dUniv","c":"Chicago","o":17700},{"v":"dUniv","c":"Chicago","o":18500},{"v":"dUniv","c":"Chicago","o":19100},
    {"v":"dUniv","c":"New York City","o":12500},{"v":"dUniv","c":"New York City","o":13500},{"v":"dUniv","c":"New York City","o":14300},
    {"v":"dUniv","c":"Philadelphia","o":60000},{"v":"dUniv","c":"Philadelphia","o":61000},{"v":"dUniv","c":"Philadelphia","o":62000},{"v":"dUniv","c":"Philadelphia","o":63400},
    {"v":"dUniv","c":"Washington DC","o":24900},{"v":"dUniv","c":"Washington DC","o":26300},

    {"v":"dTransit","c":"Boston","o":6100},
    {"v":"dTransit","c":"Chicago","o":7500},{"v":"dTransit","c":"Chicago","o":8100},{"v":"dTransit","c":"Chicago","o":8700},{"v":"dTransit","c":"Chicago","o":9600},
    {"v":"dTransit","c":"New York City","o":4500},{"v":"dTransit","c":"New York City","o":5500},
    {"v":"dTransit","c":"Philadelphia","o":21600},{"v":"dTransit","c":"Philadelphia","o":22400},{"v":"dTransit","c":"Philadelphia","o":23200},{"v":"dTransit","c":"Philadelphia","o":24000},{"v":"dTransit","c":"Philadelphia","o":24800},{"v":"dTransit","c":"Philadelphia","o":25600},{"v":"dTransit","c":"Philadelphia","o":26400},{"v":"dTransit","c":"Philadelphia","o":27200},{"v":"dTransit","c":"Philadelphia","o":28000},{"v":"dTransit","c":"Philadelphia","o":28800},{"v":"dTransit","c":"Philadelphia","o":29600},{"v":"dTransit","c":"Philadelphia","o":30400},{"v":"dTransit","c":"Philadelphia","o":31200},{"v":"dTransit","c":"Philadelphia","o":32000},{"v":"dTransit","c":"Philadelphia","o":32800},{"v":"dTransit","c":"Philadelphia","o":33600},{"v":"dTransit","c":"Philadelphia","o":34400},{"v":"dTransit","c":"Philadelphia","o":35200},{"v":"dTransit","c":"Philadelphia","o":36000},{"v":"dTransit","c":"Philadelphia","o":36800},{"v":"dTransit","c":"Philadelphia","o":37600},{"v":"dTransit","c":"Philadelphia","o":38400},{"v":"dTransit","c":"Philadelphia","o":39200},{"v":"dTransit","c":"Philadelphia","o":40000},{"v":"dTransit","c":"Philadelphia","o":40800},{"v":"dTransit","c":"Philadelphia","o":41600},{"v":"dTransit","c":"Philadelphia","o":42400},{"v":"dTransit","c":"Philadelphia","o":43200},{"v":"dTransit","c":"Philadelphia","o":44000},
    {"v":"dTransit","c":"Washington DC","o":7100},{"v":"dTransit","c":"Washington DC","o":7800},{"v":"dTransit","c":"Washington DC","o":8500},{"v":"dTransit","c":"Washington DC","o":9800},

    {"v":"dCBD","c":"Philadelphia","o":76000},{"v":"dCBD","c":"Philadelphia","o":77000},{"v":"dCBD","c":"Philadelphia","o":78600},

    {"v":"dLandmark","c":"Chicago","o":5900},{"v":"dLandmark","c":"Chicago","o":6300},
    {"v":"dLandmark","c":"New York City","o":5900},
    {"v":"dLandmark","c":"Philadelphia","o":22600},{"v":"dLandmark","c":"Philadelphia","o":23400},{"v":"dLandmark","c":"Philadelphia","o":24200},{"v":"dLandmark","c":"Philadelphia","o":25000},{"v":"dLandmark","c":"Philadelphia","o":25800},{"v":"dLandmark","c":"Philadelphia","o":26600},{"v":"dLandmark","c":"Philadelphia","o":27400},{"v":"dLandmark","c":"Philadelphia","o":28200},{"v":"dLandmark","c":"Philadelphia","o":29000},{"v":"dLandmark","c":"Philadelphia","o":29800},{"v":"dLandmark","c":"Philadelphia","o":30600},{"v":"dLandmark","c":"Philadelphia","o":31400},{"v":"dLandmark","c":"Philadelphia","o":32200},{"v":"dLandmark","c":"Philadelphia","o":33000},{"v":"dLandmark","c":"Philadelphia","o":33800},{"v":"dLandmark","c":"Philadelphia","o":34600},{"v":"dLandmark","c":"Philadelphia","o":35400},{"v":"dLandmark","c":"Philadelphia","o":36200},{"v":"dLandmark","c":"Philadelphia","o":37000},{"v":"dLandmark","c":"Philadelphia","o":37800},{"v":"dLandmark","c":"Philadelphia","o":38600},{"v":"dLandmark","c":"Philadelphia","o":39400},{"v":"dLandmark","c":"Philadelphia","o":40200},{"v":"dLandmark","c":"Philadelphia","o":41000},{"v":"dLandmark","c":"Philadelphia","o":41800},{"v":"dLandmark","c":"Philadelphia","o":42600},{"v":"dLandmark","c":"Philadelphia","o":43400},{"v":"dLandmark","c":"Philadelphia","o":44200},{"v":"dLandmark","c":"Philadelphia","o":45000},{"v":"dLandmark","c":"Philadelphia","o":45800},{"v":"dLandmark","c":"Philadelphia","o":47000},
    {"v":"dLandmark","c":"Washington DC","o":5900}
  ]},
  "facet": {
    "field": "v", "type": "nominal",
    "sort": ["TotPop","pFemale","MoAge","pWhite","pTrans","pDrive","pCom30plus","pMaleBach","medHHInc","TotHsUnit","pRentOcc","MdAgeHsg","MedRent","MedVal","NumAssault","NumRobb","Area","StreetLen","StatnCnt","capacity","dUniv","dTransit","dCBD","dLandmark"],
    "header": {
      "title": "City", "titleOrient": "bottom", "titleFontSize": 8, "titleFontWeight": "normal", "titleColor": "#000000", "titlePadding": 4,
      "labelOrient": "top", "labelFontSize": 6.5, "labelColor": "#1a1a1a", "labelPadding": -9, "labelBaseline": "middle"
    }
  },
  "columns": 6,
  "spacing": {"column": 32, "row": 9},
  "resolve": {"scale": {"y": "independent"}, "axis": {"x": "independent"}},
  "spec": {
    "width": 69,
    "height": 90,
    "resolve": {"axis": {"y": "independent"}},
    "encoding": {
      "x": {
        "field": "c", "type": "nominal", "title": null,
        "sort": ["Boston","Chicago","New York City","Philadelphia","Washington DC"],
        "scale": {"paddingInner": 0, "paddingOuter": 0.1},
        "axis": {"labels": false, "domain": false, "ticks": true, "tickSize": 2.5, "tickColor": "#333333", "tickWidth": 0.6, "grid": true, "gridColor": "#ffffff", "gridWidth": 1, "bandPosition": 0.5}
      }
    },
    "layer": [
      {
        "transform": [{"filter": "isValid(datum.lo)"}],
        "mark": {"type": "rule", "color": "#333333", "strokeWidth": 0.6},
        "encoding": {
          "y": {
            "field": "lo", "type": "quantitative", "title": null,
            "scale": {"zero": false, "nice": false, "padding": 4, "range": [90, 11]},
            "axis": {
              "values": {"expr": "sequence(ceil(domain('child_y')[0]/(pow(10,floor(log((domain('child_y')[1]-domain('child_y')[0])/4)/LN10))*[1,2,2.5,5,10][((log((domain('child_y')[1]-domain('child_y')[0])/4)/LN10-floor(log((domain('child_y')[1]-domain('child_y')[0])/4)/LN10))>=0.1761)+((log((domain('child_y')[1]-domain('child_y')[0])/4)/LN10-floor(log((domain('child_y')[1]-domain('child_y')[0])/4)/LN10))>=0.391)+((log((domain('child_y')[1]-domain('child_y')[0])/4)/LN10-floor(log((domain('child_y')[1]-domain('child_y')[0])/4)/LN10))>=0.5441)+((log((domain('child_y')[1]-domain('child_y')[0])/4)/LN10-floor(log((domain('child_y')[1]-domain('child_y')[0])/4)/LN10))>=0.8751)]))*(pow(10,floor(log((domain('child_y')[1]-domain('child_y')[0])/4)/LN10))*[1,2,2.5,5,10][((log((domain('child_y')[1]-domain('child_y')[0])/4)/LN10-floor(log((domain('child_y')[1]-domain('child_y')[0])/4)/LN10))>=0.1761)+((log((domain('child_y')[1]-domain('child_y')[0])/4)/LN10-floor(log((domain('child_y')[1]-domain('child_y')[0])/4)/LN10))>=0.391)+((log((domain('child_y')[1]-domain('child_y')[0])/4)/LN10-floor(log((domain('child_y')[1]-domain('child_y')[0])/4)/LN10))>=0.5441)+((log((domain('child_y')[1]-domain('child_y')[0])/4)/LN10-floor(log((domain('child_y')[1]-domain('child_y')[0])/4)/LN10))>=0.8751)])+0, domain('child_y')[1]+1e-9, pow(10,floor(log((domain('child_y')[1]-domain('child_y')[0])/4)/LN10))*[1,2,2.5,5,10][((log((domain('child_y')[1]-domain('child_y')[0])/4)/LN10-floor(log((domain('child_y')[1]-domain('child_y')[0])/4)/LN10))>=0.1761)+((log((domain('child_y')[1]-domain('child_y')[0])/4)/LN10-floor(log((domain('child_y')[1]-domain('child_y')[0])/4)/LN10))>=0.391)+((log((domain('child_y')[1]-domain('child_y')[0])/4)/LN10-floor(log((domain('child_y')[1]-domain('child_y')[0])/4)/LN10))>=0.5441)+((log((domain('child_y')[1]-domain('child_y')[0])/4)/LN10-floor(log((domain('child_y')[1]-domain('child_y')[0])/4)/LN10))>=0.8751)])"},
              "grid": true, "gridColor": "#ffffff", "gridWidth": 1, "domain": false,
              "tickSize": 2.5, "tickColor": "#333333", "tickWidth": 0.6,
              "labelFontSize": 5.5, "labelColor": "#4d4d4d", "labelPadding": 1.5, "labelOverlap": false,
              "labelExpr": "(domain('child_y')[1] > 5e6 || (domain('child_y')[1] > 3e5 && domain('child_y')[1] < 5e5)) ? replace(format(datum.value, domain('child_y')[1] > 5e6 ? '.1e' : '.0e'), 'e+', 'e+0') : format(datum.value, '.' + max(0, (((log((domain('child_y')[1]-domain('child_y')[0])/4)/LN10-floor(log((domain('child_y')[1]-domain('child_y')[0])/4)/LN10))>=0.391) && ((log((domain('child_y')[1]-domain('child_y')[0])/4)/LN10-floor(log((domain('child_y')[1]-domain('child_y')[0])/4)/LN10))<0.5441) ? 1 : 0) - floor(log((domain('child_y')[1]-domain('child_y')[0])/4)/LN10)) + 'f')"
            }
          },
          "y2": {"field": "hi"}
        }
      },
      {
        "transform": [{"filter": "isValid(datum.lo)"}],
        "mark": {"type": "bar", "width": {"band": 0.75}, "stroke": "#333333", "strokeWidth": 0.6},
        "encoding": {
          "y": {
            "field": "q1", "type": "quantitative",
            "axis": {
              "values": {"expr": "sequence(ceil(domain('child_y')[0]/(pow(10,floor(log((domain('child_y')[1]-domain('child_y')[0])/4)/LN10))*[1,2,2.5,5,10][((log((domain('child_y')[1]-domain('child_y')[0])/4)/LN10-floor(log((domain('child_y')[1]-domain('child_y')[0])/4)/LN10))>=0.1761)+((log((domain('child_y')[1]-domain('child_y')[0])/4)/LN10-floor(log((domain('child_y')[1]-domain('child_y')[0])/4)/LN10))>=0.391)+((log((domain('child_y')[1]-domain('child_y')[0])/4)/LN10-floor(log((domain('child_y')[1]-domain('child_y')[0])/4)/LN10))>=0.5441)+((log((domain('child_y')[1]-domain('child_y')[0])/4)/LN10-floor(log((domain('child_y')[1]-domain('child_y')[0])/4)/LN10))>=0.8751)]/2)-0.5)*(pow(10,floor(log((domain('child_y')[1]-domain('child_y')[0])/4)/LN10))*[1,2,2.5,5,10][((log((domain('child_y')[1]-domain('child_y')[0])/4)/LN10-floor(log((domain('child_y')[1]-domain('child_y')[0])/4)/LN10))>=0.1761)+((log((domain('child_y')[1]-domain('child_y')[0])/4)/LN10-floor(log((domain('child_y')[1]-domain('child_y')[0])/4)/LN10))>=0.391)+((log((domain('child_y')[1]-domain('child_y')[0])/4)/LN10-floor(log((domain('child_y')[1]-domain('child_y')[0])/4)/LN10))>=0.5441)+((log((domain('child_y')[1]-domain('child_y')[0])/4)/LN10-floor(log((domain('child_y')[1]-domain('child_y')[0])/4)/LN10))>=0.8751)]/2)+0, domain('child_y')[1]+1e-9, pow(10,floor(log((domain('child_y')[1]-domain('child_y')[0])/4)/LN10))*[1,2,2.5,5,10][((log((domain('child_y')[1]-domain('child_y')[0])/4)/LN10-floor(log((domain('child_y')[1]-domain('child_y')[0])/4)/LN10))>=0.1761)+((log((domain('child_y')[1]-domain('child_y')[0])/4)/LN10-floor(log((domain('child_y')[1]-domain('child_y')[0])/4)/LN10))>=0.391)+((log((domain('child_y')[1]-domain('child_y')[0])/4)/LN10-floor(log((domain('child_y')[1]-domain('child_y')[0])/4)/LN10))>=0.5441)+((log((domain('child_y')[1]-domain('child_y')[0])/4)/LN10-floor(log((domain('child_y')[1]-domain('child_y')[0])/4)/LN10))>=0.8751)])"},
              "grid": true, "gridColor": "#ffffff", "gridWidth": 0.5, "gridOpacity": 0.8,
              "domain": false, "ticks": false, "labels": false, "title": null
            }
          },
          "y2": {"field": "q3"},
          "color": {
            "field": "c", "type": "nominal", "title": "City",
            "scale": {"domain": ["Boston","Chicago","New York City","Philadelphia","Washington DC"], "range": ["#F8766D","#A3A500","#00BF7D","#00B0F6","#E76BF3"]},
            "legend": {"orient": "none", "legendX": 588, "legendY": 158, "symbolType": "M-0.9,-0.55H0.9V0.55H-0.9Z M-0.9,0H0.9 M0,-1V-0.55 M0,0.55V1", "symbolSize": 135, "symbolStrokeColor": "#333333", "symbolStrokeWidth": 0.6, "symbolOpacity": 1, "titleFontSize": 7, "titleFontWeight": "normal", "titleColor": "#000000", "titlePadding": 3, "labelFontSize": 6, "labelColor": "#000000", "rowPadding": 0}
          }
        }
      },
      {
        "transform": [{"filter": "isValid(datum.lo)"}],
        "mark": {"type": "tick", "color": "#333333", "thickness": 1.2, "size": 10, "opacity": 1},
        "encoding": {"y": {"field": "m", "type": "quantitative", "axis": null}}
      },
      {
        "transform": [{"filter": "isValid(datum.o)"}],
        "mark": {"type": "circle", "color": "#000000", "size": 7, "opacity": 1},
        "encoding": {"y": {"field": "o", "type": "quantitative", "axis": null}}
      }
    ]
  },
  "config": {
    "font": "Liberation Sans",
    "background": "#ffffff",
    "view": {
      "stroke": null,
      "fill": {"gradient": "linear", "x1": 0, "y1": 0, "x2": 0, "y2": 1, "stops": [{"offset": 0, "color": "#d9d9d9"}, {"offset": 0.1222, "color": "#d9d9d9"}, {"offset": 0.1222, "color": "#ebebeb"}, {"offset": 1, "color": "#ebebeb"}]}
    }
  }
}
